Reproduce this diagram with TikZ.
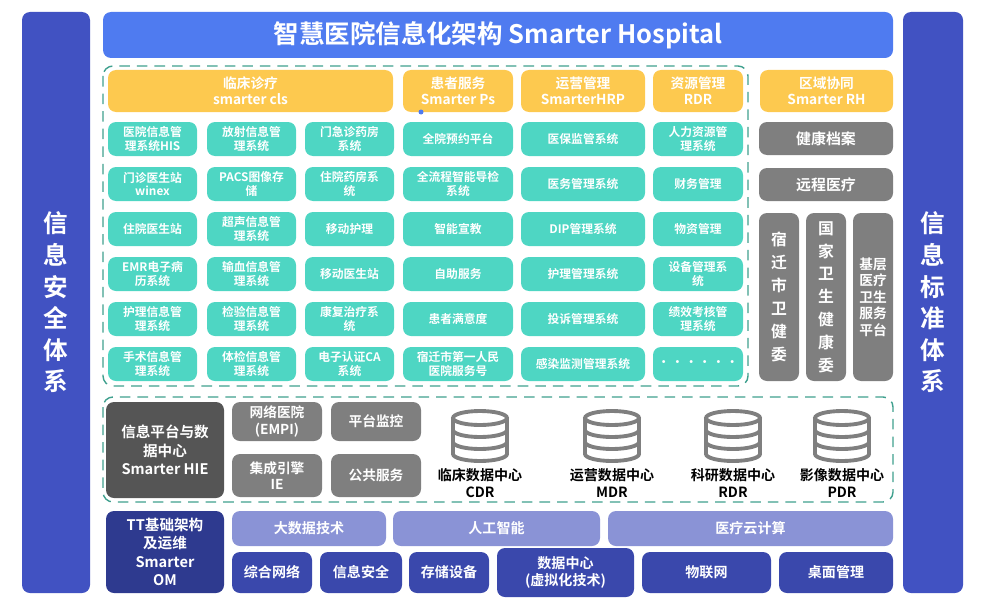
\documentclass[tikz,border=0pt]{standalone}
\usepackage{fontspec}
\setmainfont{Noto Sans CJK SC}[BoldFont={* Bold}]
\definecolor{sideblue}{HTML}{4152C2}
\definecolor{titleblue}{HTML}{4F7BF0}
\definecolor{hdryellow}{HTML}{FDC94F}
\definecolor{systeal}{HTML}{4ED6C3}
\definecolor{dashteal}{HTML}{3FA08E}
\definecolor{regray}{HTML}{7F7F7F}
\definecolor{hiegray}{HTML}{555555}
\definecolor{omnavy}{HTML}{2E3A8F}
\definecolor{techlilac}{HTML}{8A93D6}
\definecolor{infrablue}{HTML}{3A48AC}
\newcommand{\bx}[7][]{%
  \node[blk,#1,minimum width={((#5)-(#3))*0.02cm},minimum height={((#6)-(#4))*0.02cm}]
    (#2) at ({((#3)+(#5))/2},{((#4)+(#6))/2}) {#7};}
\begin{document}
\begin{tikzpicture}[%
    x=0.02cm, y=-0.02cm,
    font=\bfseries,
    blk/.style={rounded corners=0.16cm, align=center, inner sep=0pt, text=white,
      font=\fontsize{6.7}{7.8}\selectfont\bfseries},
    side/.style={blk, fill=sideblue, font=\fontsize{14}{18}\selectfont\bfseries},
    hdr/.style={fill=hdryellow, font=\fontsize{7.8}{9.2}\selectfont\bfseries},
    sys/.style={fill=systeal},
    reg/.style={fill=regray, font=\fontsize{8.5}{10}\selectfont\bfseries},
    small/.style={fill=regray, font=\fontsize{7.8}{9.4}\selectfont\bfseries},
    tech/.style={fill=techlilac, font=\fontsize{8}{9.4}\selectfont\bfseries},
    infra/.style={fill=infrablue, font=\fontsize{8}{9.4}\selectfont\bfseries},
    zone/.style={draw=dashteal, thick, dash pattern=on 6pt off 4pt, rounded corners=0.2cm},
    dbline/.style={draw=regray, line width=2.2pt},
    dc/.style={inner sep=0pt, align=center, text=black, font=\fontsize{8}{9.8}\selectfont\bfseries}
  ]
    \useasboundingbox (0,0) rectangle (986,608);
    % side bars and title
    \bx[side]{sec}{22}{12}{90}{593}{信\\息\\安\\全\\体\\系}
    \bx[side]{std}{903}{12}{963}{593}{信\\息\\标\\准\\体\\系}
    \bx[fill=titleblue, font=\fontsize{14.5}{16}\selectfont\bfseries]{title}{103}{12}{893}{58}{智慧医院信息化架构 Smarter Hospital}

    % application zone
    \draw[zone] (103,66) rectangle (748,386);
    \bx[hdr]{clin}{108}{70}{393}{112}{临床诊疗\\smarter cls}
    \bx[hdr]{pat}{403}{70}{513}{112}{患者服务\\Smarter Ps}
    \bx[hdr]{ops}{521}{70}{645}{112}{运营管理\\SmarterHRP}
    \bx[hdr]{res}{653}{70}{743}{112}{资源管理\\RDR}
    \bx[hdr]{reg}{760}{70}{893}{112}{区域协同\\Smarter RH}
    \fill[titleblue] (421,112) circle (2.5);

    \foreach \t [count=\i] in {医院信息管\\理系统HIS, 门诊医生站\\winex, 住院医生站, EMR电子病\\历系统, 护理信息管\\理系统, 手术信息管\\理系统}
      \bx[sys]{a\i}{108}{139+45*(\i-1)-17}{197}{139+45*(\i-1)+17}{\t};
    \foreach \t [count=\i] in {放射信息管\\理系统, PACS图像存\\储, 超声信息管\\理系统, 输血信息管\\理系统, 检验信息管\\理系统, 体检信息管\\理系统}
      \bx[sys]{b\i}{207}{139+45*(\i-1)-17}{296}{139+45*(\i-1)+17}{\t};
    \foreach \t [count=\i] in {门急诊药房\\系统, 住院药房系\\统, 移动护理, 移动医生站, 康复治疗系\\统, 电子认证CA\\系统}
      \bx[sys]{c\i}{305}{139+45*(\i-1)-17}{394}{139+45*(\i-1)+17}{\t};
    \foreach \t [count=\i] in {全院预约平台, 全流程智能导检\\系统, 智能宣教, 自助服务, 患者满意度, 宿迁市第一人民\\医院服务号}
      \bx[sys]{d\i}{403}{139+45*(\i-1)-17}{513}{139+45*(\i-1)+17}{\t};
    \foreach \t [count=\i] in {医保监管系统, 医务管理系统, DIP管理系统, 护理管理系统, 投诉管理系统, 感染监测管理系统}
      \bx[sys]{e\i}{521}{139+45*(\i-1)-17}{645}{139+45*(\i-1)+17}{\t};
    \foreach \t [count=\i] in {人力资源管\\理系统, 财务管理, 物资管理, 设备管理系\\统, 绩效考核管\\理系统, \textperiodcentered\,\textperiodcentered\,\textperiodcentered\,\textperiodcentered\,\textperiodcentered\,\textperiodcentered}
      \bx[sys]{f\i}{653}{139+45*(\i-1)-17}{743}{139+45*(\i-1)+17}{\t};

    % regional services
    \bx[reg]{ehr}{759}{122}{893}{155}{健康档案}
    \bx[reg]{tele}{759}{168}{893}{201}{远程医疗}
    \bx[reg, font=\fontsize{9}{13}\selectfont\bfseries]{sq}{759}{213}{799}{381}{宿\\迁\\市\\卫\\健\\委}
    \bx[reg, font=\fontsize{9}{13}\selectfont\bfseries]{nhc}{806}{213}{846}{381}{国\\家\\卫\\生\\健\\康\\委}
    \bx[reg, font=\fontsize{7.8}{9.4}\selectfont\bfseries]{pc}{853}{213}{893}{381}{基层\\医疗\\卫生\\服务\\平台}

    % platform zone
    \draw[zone] (103,397) rectangle (893,502);
    \bx[fill=hiegray, font=\fontsize{8.3}{10.4}\selectfont\bfseries]{hie}{106}{402}{224}{498}{信息平台与数\\据中心\\Smarter HIE}
    \bx[small]{empi}{232}{402}{322}{441}{网络医院\\(EMPI)}
    \bx[small]{mon}{331}{402}{421}{441}{平台监控}
    \bx[small]{ie}{232}{454}{322}{497}{集成引擎\\IE}
    \bx[small]{pub}{331}{454}{421}{497}{公共服务}
    \foreach \x/\n/\a/\b in {480/cdr/临床数据中心/CDR, 612/mdr/运营数据中心/MDR, 733/rdr/科研数据中心/RDR, 842/pdr/影像数据中心/PDR} {
      \draw[dbline] (\x-27,418) -- (\x-27,454) arc[start angle=180, end angle=0, x radius=27, y radius=7] -- (\x+27,418);
      \draw[dbline] (\x,418) ellipse[x radius=27, y radius=7];
      \draw[dbline] (\x-27,430) arc[start angle=180, end angle=0, x radius=27, y radius=7];
      \draw[dbline] (\x-27,442) arc[start angle=180, end angle=0, x radius=27, y radius=7];
      \node[dc] (\n) at (\x,483) {\a\\\b};
    }

    % infrastructure
    \bx[fill=omnavy, font=\fontsize{8.3}{10.4}\selectfont\bfseries]{om}{106}{511}{224}{593}{TT基础架构\\及运维\\Smarter\\OM}
    \bx[tech]{bd}{232}{511}{386}{546}{大数据技术}
    \bx[tech]{ai}{393}{511}{600}{546}{人工智能}
    \bx[tech]{cloud}{608}{511}{893}{546}{医疗云计算}
    \bx[infra]{net}{232}{552}{312}{593}{综合网络}
    \bx[infra]{isec}{320}{552}{402}{593}{信息安全}
    \bx[infra]{stor}{409}{552}{489}{593}{存储设备}
    \bx[infra]{dc}{497}{548}{634}{597}{数据中心\\(虚拟化技术)}
    \bx[infra]{iot}{642}{552}{771}{593}{物联网}
    \bx[infra]{desk}{779}{552}{893}{593}{桌面管理}
\end{tikzpicture}
\end{document}
